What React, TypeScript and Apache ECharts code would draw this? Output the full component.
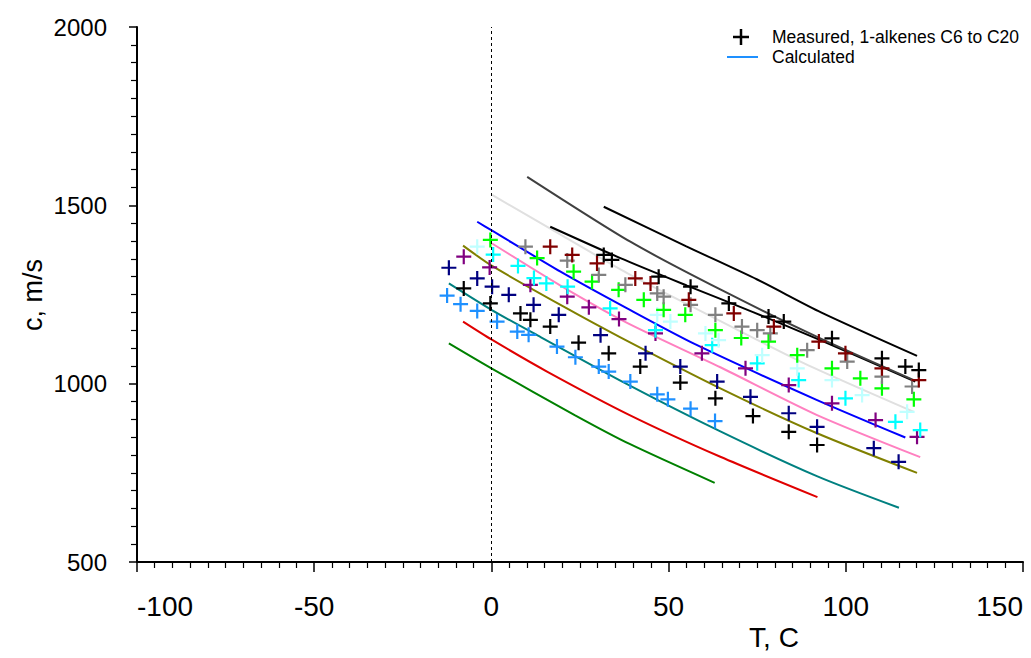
import React, { useEffect, useRef } from "react";
import * as echarts from "echarts";

// ---------- Measured points [T (C), c (m/s)] ----------
const measDodger = [
  [-12.5, 1247], [-8.7, 1223], [-4.0, 1204], [1.6, 1174], [7.3, 1146], [10.5, 1137],
  [18.5, 1104], [23.7, 1074], [30.3, 1048], [33.1, 1034], [39.2, 1006], [46.8, 970],
  [49.8, 956], [56.2, 930], [63.1, 895],
];
const measBlackLow = [
  [-7.8, 1267], [-0.3, 1225], [8.2, 1197], [11.0, 1179], [16.6, 1160], [24.6, 1115],
  [33.1, 1085], [42.0, 1048], [53.3, 1003], [63.2, 959], [73.8, 909], [83.9, 865], [91.9, 828],
];
const measNavy = [
  [-12.0, 1325], [-4.0, 1295], [0.2, 1272], [4.9, 1249], [11.9, 1221], [19.0, 1193],
  [30.8, 1136], [43.5, 1085], [53.3, 1048], [63.7, 1006], [73.1, 963], [83.9, 917],
  [91.9, 879], [107.9, 819], [114.9, 781],
];
const measPurple = [
  [-7.8, 1356], [-0.5, 1326], [11.0, 1277], [21.4, 1244], [27.5, 1214], [36.0, 1181],
  [46.3, 1141], [59.4, 1085], [71.7, 1043], [83.9, 996], [96.1, 945], [108.4, 898], [120.1, 851],
];
const measCyan = [
  [0.5, 1362], [7.5, 1330], [12.0, 1296], [15.5, 1281], [21.5, 1272], [33.5, 1211],
  [46.3, 1150], [62.3, 1108], [75.0, 1057], [86.7, 1010], [99.9, 959], [114.0, 893], [121.0, 870],
];
const measLightCyan = [
  [-4.0, 1384], [46.8, 1193], [50.5, 1174], [60.4, 1141], [64.1, 1122], [76.4, 1080],
  [86.3, 1043], [96.1, 1010], [104.6, 968], [117.3, 921],
];
const measGreen = [
  [-0.3, 1403], [12.9, 1352], [23.2, 1314], [28.4, 1286], [35.9, 1263], [43.0, 1235],
  [48.6, 1207], [54.7, 1193], [63.2, 1150], [70.5, 1128], [78.2, 1118], [86.3, 1080],
  [96.1, 1043], [104.1, 1015], [110.2, 987], [119.2, 956],
];
const measGray = [
  [9.6, 1384], [21.4, 1345], [30.3, 1305], [37.8, 1277], [46.8, 1253], [48.6, 1244],
  [56.2, 1221], [63.2, 1193], [70.7, 1160], [75.0, 1150], [78.7, 1141], [89.1, 1094],
  [100.4, 1062], [110.2, 1020], [118.7, 992],
];
const measMaroon = [
  [16.6, 1384], [22.8, 1361], [29.8, 1337], [40.6, 1295], [44.9, 1281], [55.7, 1235],
  [68.4, 1197], [79.7, 1160], [92.4, 1118], [99.9, 1085], [110.2, 1043], [120.6, 1010],
];
const measBlackHigh = [
  [31.7, 1361], [34.0, 1347], [47.2, 1300], [56.2, 1272], [67.0, 1225], [78.2, 1188],
  [82.5, 1174], [96.1, 1127], [110.2, 1071], [116.8, 1048], [120.6, 1038],
];

// ---------- Calculated curves [T (C), c (m/s)] ----------
const calcGreen = [[-12, 1113], [0, 1043], [23.5, 912], [39, 831], [63, 722]];
const calcRed = [[-8, 1174], [0, 1124], [15.7, 1034], [39, 912], [64.6, 795], [92, 682]];
const calcTeal = [[-12, 1281], [0, 1207], [14, 1130], [38, 1000], [64.6, 866], [92, 740], [115, 652]];
const calcOlive = [[-8, 1387], [0.2, 1330], [20.4, 1216], [36.4, 1130], [64.6, 987], [91.9, 861], [120.1, 750]];
const calcPink = [[0.2, 1393], [19.5, 1275], [38, 1172], [64.6, 1046], [91.9, 912], [121, 794]];
const calcBlue = [[-4, 1454], [0.2, 1429], [19.5, 1314], [38.3, 1211], [57.6, 1110], [91.9, 954], [116.8, 849]];
const calcLightGray = [[0.2, 1529], [20, 1415], [38.3, 1310], [57.6, 1211], [87.2, 1062], [119.2, 921]];
const calcBlackLow = [[16.6, 1440], [36.4, 1352], [55.2, 1275], [74, 1200], [92.8, 1122], [119.6, 1006]];
const calcDarkGray = [[10.1, 1580], [39.2, 1398], [65, 1262], [92.8, 1127], [119.2, 1010]];
const calcBlackHigh = [[31.7, 1496], [55, 1385], [75, 1292], [93, 1200], [120.1, 1078]];

const X_RANGE = [-100, 150];
const Y_RANGE = [500, 2000];
const LEGEND_LABELS = ["Measured, 1-alkenes C6 to C20", "Calculated"];
const X_TITLE = "T, C";
const Y_TITLE = "c, m/s";

const PLUS = "path://M7,0 L7,14 M0,7 L14,7";
const FONT = "'Liberation Sans', Arial, sans-serif";

export default function App() {
  const ref = useRef<HTMLDivElement>(null);

  useEffect(() => {
    if (!ref.current) return;
    const chart = echarts.init(ref.current, undefined, { renderer: "svg" });

    const lines: [number[][], string][] = [
      [calcGreen, "#008000"],
      [calcRed, "#E00000"],
      [calcTeal, "#008080"],
      [calcOlive, "#808000"],
      [calcPink, "#FF80C0"],
      [calcBlue, "#0000FF"],
      [calcLightGray, "#E0E0E0"],
      [calcBlackLow, "#000000"],
      [calcDarkGray, "#404040"],
      [calcBlackHigh, "#000000"],
    ];
    const points: [number[][], string][] = [
      [measDodger, "#1E90FF"],
      [measBlackLow, "#000000"],
      [measNavy, "#000080"],
      [measPurple, "#800080"],
      [measCyan, "#00FFFF"],
      [measLightCyan, "#C0FFFF"],
      [measGreen, "#00FF00"],
      [measGray, "#808080"],
      [measMaroon, "#800000"],
      [measBlackHigh, "#000000"],
    ];

    const series: any[] = [];
    lines.forEach(([d, c], i) => {
      const s: any = {
        type: "line",
        data: d,
        smooth: 0.25,
        showSymbol: false,
        symbol: "none",
        z: 2,
        lineStyle: { color: c, width: 2 },
      };
      if (i === 0) {
        s.markLine = {
          silent: true,
          symbol: ["none", "none"],
          label: { show: false },
          lineStyle: { color: "#000", type: [3, 3], width: 1 },
          data: [{ xAxis: 0 }],
        };
      }
      series.push(s);
    });
    points.forEach(([d, c]) => {
      series.push({
        type: "scatter",
        data: d,
        symbol: PLUS,
        symbolSize: 15,
        z: 3,
        itemStyle: { color: "transparent", borderColor: c, borderWidth: 2.2, opacity: 1 },
      });
    });

    chart.setOption({
      animation: false,
      backgroundColor: "#fff",
      grid: { left: 137, right: 8, top: 27, bottom: 96, containLabel: false },
      xAxis: {
        type: "value",
        min: X_RANGE[0],
        max: X_RANGE[1],
        interval: 50,
        axisLine: { show: true, onZero: false, lineStyle: { color: "#000", width: 2 } },
        axisTick: { show: true, length: 10, lineStyle: { color: "#000", width: 1.5 } },
        minorTick: { show: true, splitNumber: 10, length: 6, lineStyle: { color: "#000", width: 1.2 } },
        splitLine: { show: false },
        axisLabel: {
          margin: 30,
          color: "#000",
          fontSize: 28,
          fontFamily: FONT,
          alignMinLabel: "left",
          alignMaxLabel: "right",
          formatter: (v: number) => String(v),
        },
      },
      yAxis: {
        type: "value",
        min: Y_RANGE[0],
        max: Y_RANGE[1],
        interval: 500,
        axisLine: { show: true, onZero: false, lineStyle: { color: "#000", width: 2 } },
        axisTick: { show: true, length: 8, lineStyle: { color: "#000", width: 1.5 } },
        minorTick: { show: true, splitNumber: 10, length: 6, lineStyle: { color: "#000", width: 1.2 } },
        splitLine: { show: false },
        axisLabel: {
          margin: 30,
          color: "#000",
          fontSize: 24,
          fontFamily: FONT,
          formatter: (v: number) => String(v),
        },
      },
      graphic: [
        {
          type: "text",
          x: 774,
          y: 637,
          style: {
            text: X_TITLE,
            fill: "#000",
            font: "28px " + FONT,
            align: "center",
            verticalAlign: "middle",
          },
        },
        {
          type: "text",
          x: 33,
          y: 295,
          rotation: Math.PI / 2,
          style: {
            text: Y_TITLE,
            fill: "#000",
            font: "27px " + FONT,
            align: "center",
            verticalAlign: "middle",
          },
        },
        { type: "line", shape: { x1: 733, y1: 37, x2: 749, y2: 37 }, style: { stroke: "#000", lineWidth: 2.5 } },
        { type: "line", shape: { x1: 741, y1: 29, x2: 741, y2: 45 }, style: { stroke: "#000", lineWidth: 2.5 } },
        {
          type: "text",
          x: 772,
          y: 37,
          style: {
            text: LEGEND_LABELS[0],
            fill: "#000",
            font: "17.5px " + FONT,
            verticalAlign: "middle",
          },
        },
        { type: "line", shape: { x1: 727, y1: 57, x2: 758, y2: 57 }, style: { stroke: "#1E90FF", lineWidth: 2 } },
        {
          type: "text",
          x: 772,
          y: 57,
          style: {
            text: LEGEND_LABELS[1],
            fill: "#000",
            font: "17.5px " + FONT,
            verticalAlign: "middle",
          },
        },
      ],
      series,
    });

    return () => chart.dispose();
  }, []);

  return (
    <div
      ref={ref}
      style={{ position: "fixed", left: 0, top: 0, width: 1031, height: 658, background: "#fff" }}
    />
  );
}
